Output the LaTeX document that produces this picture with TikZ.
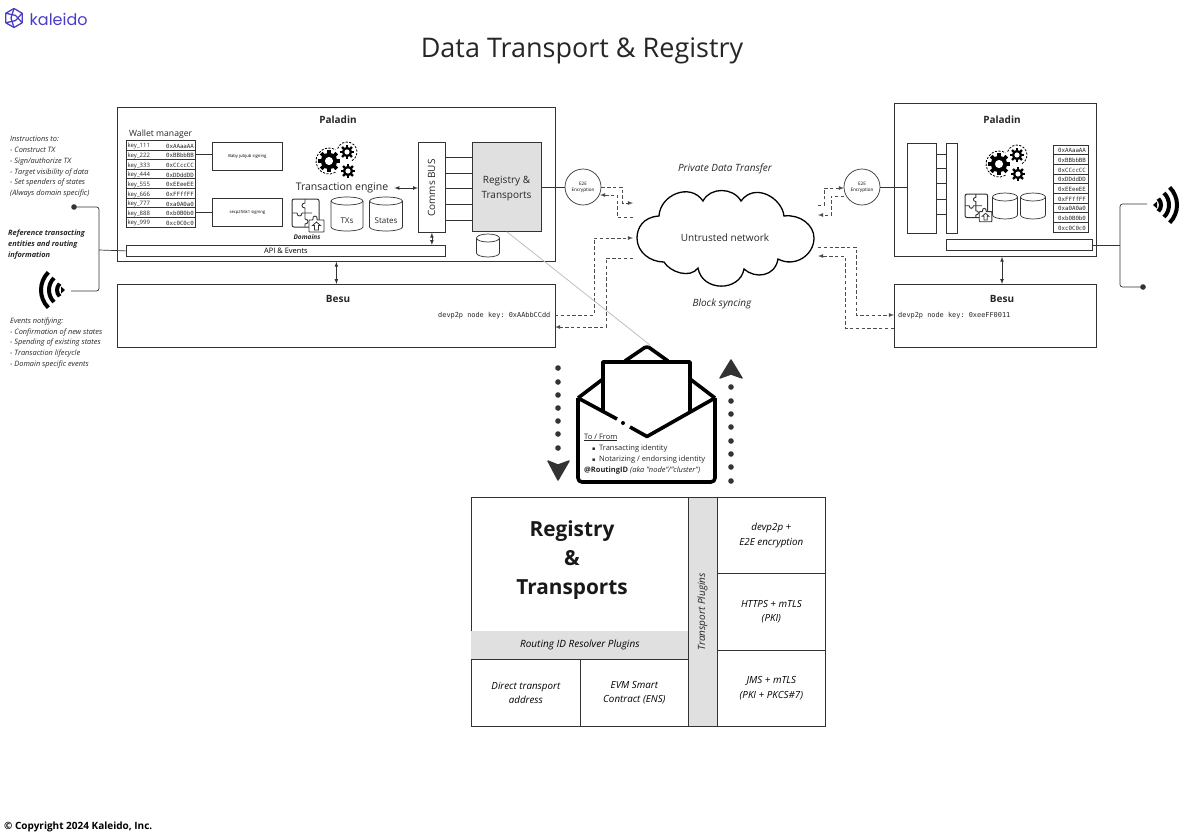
\documentclass[tikz,border=0pt]{standalone}
\usepackage{fontspec}
\setmainfont{Open Sans}
\setmonofont{DejaVu Sans Mono}
\newfontfamily\logofont{Poppins}
\newfontfamily\symfont{DejaVu Sans}
\usepackage{tikz}
\usetikzlibrary{calc}

\definecolor{linegray}{HTML}{333333}
\definecolor{bandgray}{HTML}{E0E0E0}
\definecolor{logopurple}{HTML}{4B3CC4}
\newcommand{\fsize}[1]{\fontsize{#1}{#1}\selectfont}

\tikzset{
	box/.style={draw=linegray, line width=0.8, inner sep=0, anchor=north west},
	greybox/.style={box, fill=bandgray},
	cell/.style={draw=linegray, line width=0.7, inner sep=0, anchor=north west},
	band/.style={cell, fill=bandgray},
	label/.style={inner sep=0, text=black!85, yshift=-1},
	para/.style={inner sep=0, anchor=north west, align=left, text=black!85},
	e2e/.style={draw=linegray, line width=0.7, circle, minimum size=36, inner sep=0, align=center, font=\fsize{4.6}},
	thin conn/.style={draw=linegray, line width=0.7},
	wire/.style={draw=black!70, dash pattern=on 3.4pt off 2.4pt, line width=0.8},
	keyrow/.style={draw=linegray, line width=0.6, minimum width=69, minimum height=9.65, inner sep=0},
	valrow/.style={draw=linegray, line width=0.6, minimum width=35, minimum height=9.65, inner sep=0},
	bighead/.style={fill=linegray, draw=linegray, line width=1.4, line join=round},
	pics/gears/.style={code={
		\foreach \cx/\cy/\r in {0/0/11, 18/-9/7, 19/10/7}{
			\fill[black] (\cx,\cy) circle ({0.74*\r});
			\foreach \a in {0,45,...,315}
				\fill[black, shift={(\cx,\cy)}, rotate=\a] ({-0.17*\r},0) rectangle ({0.17*\r},\r);
			\fill[white] (\cx,\cy) circle ({0.37*\r});
		}
		\draw[line width=0.8, dash pattern=on 2.2pt off 1.4pt] (6.5,11.3) arc[start angle=60, end angle=300, radius=13];
		\draw[line width=0.8, dash pattern=on 2.2pt off 1.4pt] (8.6,-12.4) arc[start angle=200, end angle=420, radius=10];
	}},
	pics/puzzle/.style={code={
		\draw[rounded corners=2, line width=1, draw=linegray] (0,0) rectangle (27,28);
		\draw[line width=0.9, draw=linegray] (13,0) -- (13,4) .. controls (9,4) and (9,9) .. (13,9) -- (13,14);
		\draw[line width=0.9, draw=linegray] (0,14) -- (5,14) .. controls (5,18) and (10,18) .. (10,14) -- (20,14);
		\draw[line width=0.9, draw=linegray] (13,14) -- (13,20) .. controls (17,20) and (17,25) .. (13,25) -- (13,28);
		\draw[line width=0.9, draw=linegray, fill=white, rounded corners=0.6] (17,21) -- (21,21) .. controls (20,16) and (26,16) .. (25,21) -- (32,21) -- (32,33) -- (17,33) -- cycle;
		\draw[line width=0.8, draw=linegray] (24.5,23) -- (28.5,26.5) -- (26.5,26.5) -- (26.5,31) -- (22.5,31) -- (22.5,26.5) -- (20.5,26.5) -- cycle;
	}},
	pics/dbcyl/.style 2 args={code={
		\draw[draw=linegray, line width=0.7] (-#1,{-#2+4}) -- (-#1,{#2-4}) arc[start angle=180, end angle=0, x radius=#1, y radius=4] -- (#1,{-#2+4}) arc[start angle=0, end angle=-180, x radius=#1, y radius=4] -- cycle;
		\draw[draw=linegray, line width=0.7] (-#1,{-#2+4}) arc[start angle=180, end angle=0, x radius=#1, y radius=4];
	}}
}

\begin{document}
\begin{tikzpicture}[x=1pt, y=-1pt]
	\useasboundingbox (0,0) rectangle (1191,839);

	% logo and title
	\begin{scope}[shift={(14,18)}, logopurple, line width=1.3, line join=round]
		\draw (90:9.5) -- (30:9.5) -- (-30:9.5) -- (-90:9.5) -- (-150:9.5) -- (150:9.5) -- cycle;
		\foreach \a in {0,120,240}
			\draw[rotate=\a] (150:9.5) -- (60:3) -- (-30:9.5);
	\end{scope}
	\node[label, anchor=west, text=logopurple, font=\logofont\fsize{16}] (logotext) at (29.5,18) {kaleido};
	\node[label, font=\fsize{27}] (title) at (582,50) {Data Transport \& Registry};
	\node[label, anchor=west, font=\bfseries\fsize{10}, text=black] (copyright) at (4,826) {© Copyright 2024 Kaleido, Inc.};

	% left node
	\node[box, minimum width=438, minimum height=154] (paladinL) at (117,107) {};
	\node[box, minimum width=438, minimum height=63] (besuL) at (117,284) {};
	\node[label, font=\bfseries\fsize{10}] (paladinLtext) at (338,119) {Paladin};
	\node[label, font=\bfseries\fsize{10}] (besuLtext) at (338,298) {Besu};
	\node[label, anchor=west, font=\ttfamily\fsize{6.9}] (keyL) at (438,315) {devp2p node key: 0xAAbbCCdd};
	\coordinate (keyLout) at (555,315);
	\coordinate (keyLin) at (555,327);

	\node[label, anchor=west, font=\fsize{8.6}] (wallet) at (129,133) {Wallet manager};
	\foreach \k/\v [count=\i] in {111/0xAAaaAA, 222/0xBBbbBB, 333/0xCCccCC, 444/0xDDddDD, 555/0xEEeeEE, 666/0xFFffFF, 777/0xa0A0a0, 888/0xb0B0b0, 999/0xc0C0c0}{
		\node[keyrow] (rowL\i) at (160.5,{145+(\i-1)*9.65}) {};
		\node[label, anchor=west, font=\fsize{6}] (rowLk\i) at (127.5,{145.2+(\i-1)*9.65}) {key\_\k};
		\node[label, font=\ttfamily\fsize{5.8}] (rowLv\i) at (180,{145+(\i-1)*9.65}) {\v};
		\node[valrow] (rowR\i) at (1071,{149.8+(\i-1)*9.65}) {};
		\node[label, font=\ttfamily\fsize{5.8}] (rowRv\i) at (1072,{149.8+(\i-1)*9.65}) {\v};
	}
	\node[box, minimum width=70, minimum height=28, font=\fsize{4.2}] (jubjub) at (212,142) {Baby jubjub signing};
	\node[box, minimum width=70, minimum height=28, font=\fsize{4.2}] (secp) at (212,198) {secp256k1 signing};
	\draw[thin conn] (rowL2.east) -- (jubjub.west |- rowL2.east);
	\draw[thin conn] (rowL8.east) -- (secp.west |- rowL8.east);

	\pic at (329,161) {gears};
	\node[label, font=\fsize{10.5}] (engine) at (342,187) {Transaction engine};
	\pic at (292,199) {puzzle};
	\node[label, font=\bfseries\itshape\fsize{6.5}] (domains) at (307,236) {Domains};
	\pic at (347,214) {dbcyl={16}{17}};
	\node[label, font=\fsize{8}] (txs) at (347,220) {TXs};
	\pic at (386,214) {dbcyl={16.5}{17}};
	\node[label, font=\fsize{8}] (states) at (386,220) {States};
	\pic at (488,245.5) {dbcyl={11.5}{11.5}};

	\node[box, minimum width=27, minimum height=90] (comms) at (418,142) {};
	\node[label, rotate=90, font=\fsize{10}] (commstext) at (431.5,187) {Comms BUS};
	\node[greybox, minimum width=69, minimum height=89] (regL) at (472,142) {};
	\node[label, align=center, font=\fsize{10}] (regLtext) at (506.5,187.5) {Registry \&\\[4.5pt]Transports};
	\foreach \y in {157,173,188,204,220}
		\draw[thin conn] (comms.east |- 0,\y) -- (regL.west |- 0,\y);
	\draw[thin conn, latex-latex] ($(engine.east)+(6,0)$) -- (comms.west |- engine.east);
	\node[box, minimum width=319, minimum height=11, font=\fsize{7.5}] (apiL) at (126,245) {API \& Events};
	\draw[thin conn, latex-latex] (comms.south) -- (comms.south |- apiL.north);
	\draw[thin conn, latex-latex] (paladinL.south) -- (besuL.north);

	\node[e2e] (e2eL) at (583,187) {E2E\\[1.5pt]Encryption};
	\draw[thin conn] (e2eL.west |- regL.east) -- (regL.east);

	% left side notes
	\node[para, font=\itshape\fontsize{7.4}{10.8}\selectfont] (notesA) at (10,136) {Instructions to:\\- Construct TX\\- Sign/authorize TX\\- Target visibility of data\\- Set spenders of states\\(Always domain specific)};
	\node[para, font=\bfseries\itshape\fontsize{7.4}{11}\selectfont] (notesB) at (8,229.5) {Reference transacting\\entities and routing\\information};
	\node[para, font=\itshape\fontsize{7.4}{10.7}\selectfont] (notesC) at (10,317.5) {Events notifying:\\- Confirmation of new states\\- Spending of existing states\\- Transaction lifecycle\\- Domain specific events};

	\coordinate (dotL) at (74,207);
	\coordinate (wifiLend) at (71,291);
	\coordinate (forkL) at (99,250);
	\fill[linegray] (dotL) circle (2.8);
	\draw[thin conn, rounded corners=2.5] (dotL) -| (forkL) |- (wifiLend);
	\draw[thin conn] (forkL) -- (apiL.west);
	\foreach \r in {9,17,25}
		\draw[line width=4, black] ($(66,290)+(135:\r)$) arc (135:225:\r);
	\fill[black] (61,286.5) -- (65,290) -- (61,293.5) -- cycle;

	% right node
	\node[box, minimum width=202, minimum height=153] (paladinR) at (894,103) {};
	\node[box, minimum width=202, minimum height=63] (besuR) at (894,284) {};
	\node[label, font=\bfseries\fsize{10}] (paladinRtext) at (1002,119) {Paladin};
	\node[label, font=\bfseries\fsize{10}] (besuRtext) at (1002,298) {Besu};
	\node[label, anchor=west, font=\ttfamily\fsize{6.9}] (keyR) at (898,315) {devp2p node key: 0xeeFF0011};
	\pic at (999,164) {gears};
	\pic[scale=0.84] at (965,194) {puzzle};
	\pic at (1005,206) {dbcyl={12.5}{13}};
	\pic at (1033,206) {dbcyl={12.5}{13}};
	\node[box, minimum width=29, minimum height=90] (regR) at (907,143) {};
	\node[box, minimum width=11, minimum height=90] (commsR) at (946,143) {};
	\foreach \y in {154,168,183,199,214}
		\draw[thin conn] (regR.east |- 0,\y) -- (commsR.west |- 0,\y);
	\node[box, minimum width=146, minimum height=11] (apiR) at (946,239) {};
	\draw[thin conn, latex-latex] (paladinR.south -| besuRtext) -- (besuR.north -| besuRtext);
	\node[e2e] (e2eR) at (862,187) {E2E\\[1.5pt]Encryption};
	\draw[thin conn] (e2eR.east) -- (regR.west |- e2eR.east);

	\coordinate (dotR) at (1143,287);
	\coordinate (wifiRend) at (1147,204);
	\coordinate (forkR) at (1120,245);
	\fill[linegray] (dotR) circle (2.8);
	\draw[thin conn, rounded corners=2.5] (wifiRend) -| (forkR) |- (dotR);
	\draw[thin conn] (forkR) -- (apiR.east |- forkR);
	\foreach \r in {9,17,25}
		\draw[line width=4, black] ($(1152,205)+(-45:\r)$) arc (-45:45:\r);
	\fill[black] (1157,201.5) -- (1153,205) -- (1157,208.5) -- cycle;

	% network
	\draw[black, line width=1.3] (659,216) .. controls (643,217) and (637,228) .. (637,238)
		.. controls (637,252) and (650,262) .. (664,262)
		.. controls (670,272) and (690,279) .. (698,268)
		.. controls (702,292) and (740,292) .. (744,269)
		.. controls (755,279) and (775,277) .. (778,259)
		.. controls (795,268) and (814,255) .. (814,238)
		.. controls (814,225) and (800,214) .. (784,216)
		.. controls (782,198) and (755,182) .. (741,201)
		.. controls (733,187) and (710,187) .. (703,201)
		.. controls (690,182) and (660,195) .. (659,216) -- cycle;
	\node[label, font=\fsize{10}] (untrusted) at (725,237) {Untrusted network};
	\node[label, font=\itshape\fsize{10}] (privatetext) at (725,168) {Private Data Transfer};
	\node[label, font=\itshape\fsize{10}] (blocktext) at (722,303) {Block syncing};

	% dashed paths in and out of the network
	\coordinate (netA) at (633,203);
	\coordinate (netB) at (633,217);
	\coordinate (netC) at (633,238);
	\coordinate (netD) at (633,258);
	\coordinate (netE) at (818,205);
	\coordinate (netF) at (818,215);
	\coordinate (netG) at (818,247);
	\coordinate (netH) at (818,256);
	\draw[wire, -latex] (e2eL.east) -- (622,187) |- (netA);
	\draw[wire, -latex] (netB) -| (617,195) -- (600,195);
	\draw[wire, -latex] (keyLout) -| (594,238) -- (netC);
	\draw[wire, -latex] (netD) -| (606,327) -- (keyLin);
	\draw[wire, -latex] (netE) -| (824,188) -- (844,188);
	\draw[wire, -latex] (844,196) -| (831,215) -- (netF);
	\draw[wire, -latex] (netG) -| (856,315) -- (besuR.west |- 0,315);
	\draw[wire, -latex] (besuR.west |- 0,328) -| (845,256) -- (netH);

	% envelope
	\coordinate (envtop) at (650,345);
	\draw[black!25, line width=0.8] (regL.south) -- (envtop);
	\begin{scope}[black, line width=3.6, line join=round]
		\draw[rounded corners=3] (625,361) -- (647,346) -- (668,361);
		\draw (578,398) -- (603,379);
		\draw (690,379) -- (715,398);
		\draw[fill=white] (603,415) -- (603,362) -- (690,362) -- (690,415);
		\fill[white] (578,398) -- (647,437) -- (715,398) -- (715,482) -- (578,482) -- cycle;
		\draw[rounded corners=4] (578,398) -- (578,482) -- (715,482) -- (715,398);
		\draw (578,398) -- (617,419);
		\draw (630,427) -- (647,436.5) -- (715,398);
		\fill (623,423) circle (2);
	\end{scope}
	\node[para, font=\fsize{7.5}] (envA) at (584,433.5) {\underline{To / From}};
	\node[para, font=\fsize{7.5}] (envB) at (592,444.5) {{\symfont\fsize{5}▪}\hspace{3.5pt}Transacting identity};
	\node[para, font=\fsize{7.5}] (envC) at (592,455.5) {{\symfont\fsize{5}▪}\hspace{3.5pt}Notarizing / endorsing identity};
	\node[para, font=\fsize{7.5}] (envD) at (584,466.5) {\textbf{@RoutingID} \textit{(aka "node"/"cluster")}};

	% dots down and up
	\foreach \y in {368,382,395,408,421,434,448}
		\fill[linegray] (558,\y) circle (2.8);
	\fill[bighead] (548,461) -- (558,465) -- (569,461) -- (558,480) -- cycle;
	\foreach \y in {387,401,414,427,441,454,467,481}
		\fill[linegray] (731,\y) circle (2.8);
	\fill[bighead] (720,378) -- (731,360) -- (742,378) -- (731,374) -- cycle;

	% registry and transports
	\node[cell, minimum width=217, minimum height=229] (regBig) at (471,497) {};
	\node[band, minimum width=29, minimum height=229] (pluginband) at (688,497) {};
	\node[label, rotate=90, font=\itshape\fsize{10}] (plugintext) at (702.5,611) {Transport Plugins};
	\node[band, minimum width=217, minimum height=28, draw=none, font=\itshape\fsize{10}] (routing) at (471,631) {Routing ID Resolver Plugins};
	\node[cell, minimum width=109, minimum height=67, align=center, font=\itshape\fsize{9.8}] (direct) at (471,659) {Direct transport\\[4pt]address};
	\node[cell, minimum width=108, minimum height=67, align=center, font=\itshape\fsize{9.8}] (evm) at (580,659) {EVM Smart\\[4pt]Contract (ENS)};
	\node[cell, minimum width=108, minimum height=76, align=center, font=\itshape\fsize{9.8}] (devp) at (717,497) {devp2p +\\[4.5pt]E2E encryption};
	\node[cell, minimum width=108, minimum height=77, align=center, font=\itshape\fsize{9.8}] (https) at (717,573) {HTTPS + mTLS\\[4.5pt](PKI)};
	\node[cell, minimum width=108, minimum height=76, align=center, font=\itshape\fsize{9.8}] (jms) at (717,650) {JMS + mTLS\\[4.5pt](PKI + PKCS\#7)};
	\node[label, align=center, font=\bfseries\fsize{20.8}, text=black!90] (regtitle) at (572,559) {Registry\\[8pt]\&\\[8pt]Transports};
\end{tikzpicture}
\end{document}
